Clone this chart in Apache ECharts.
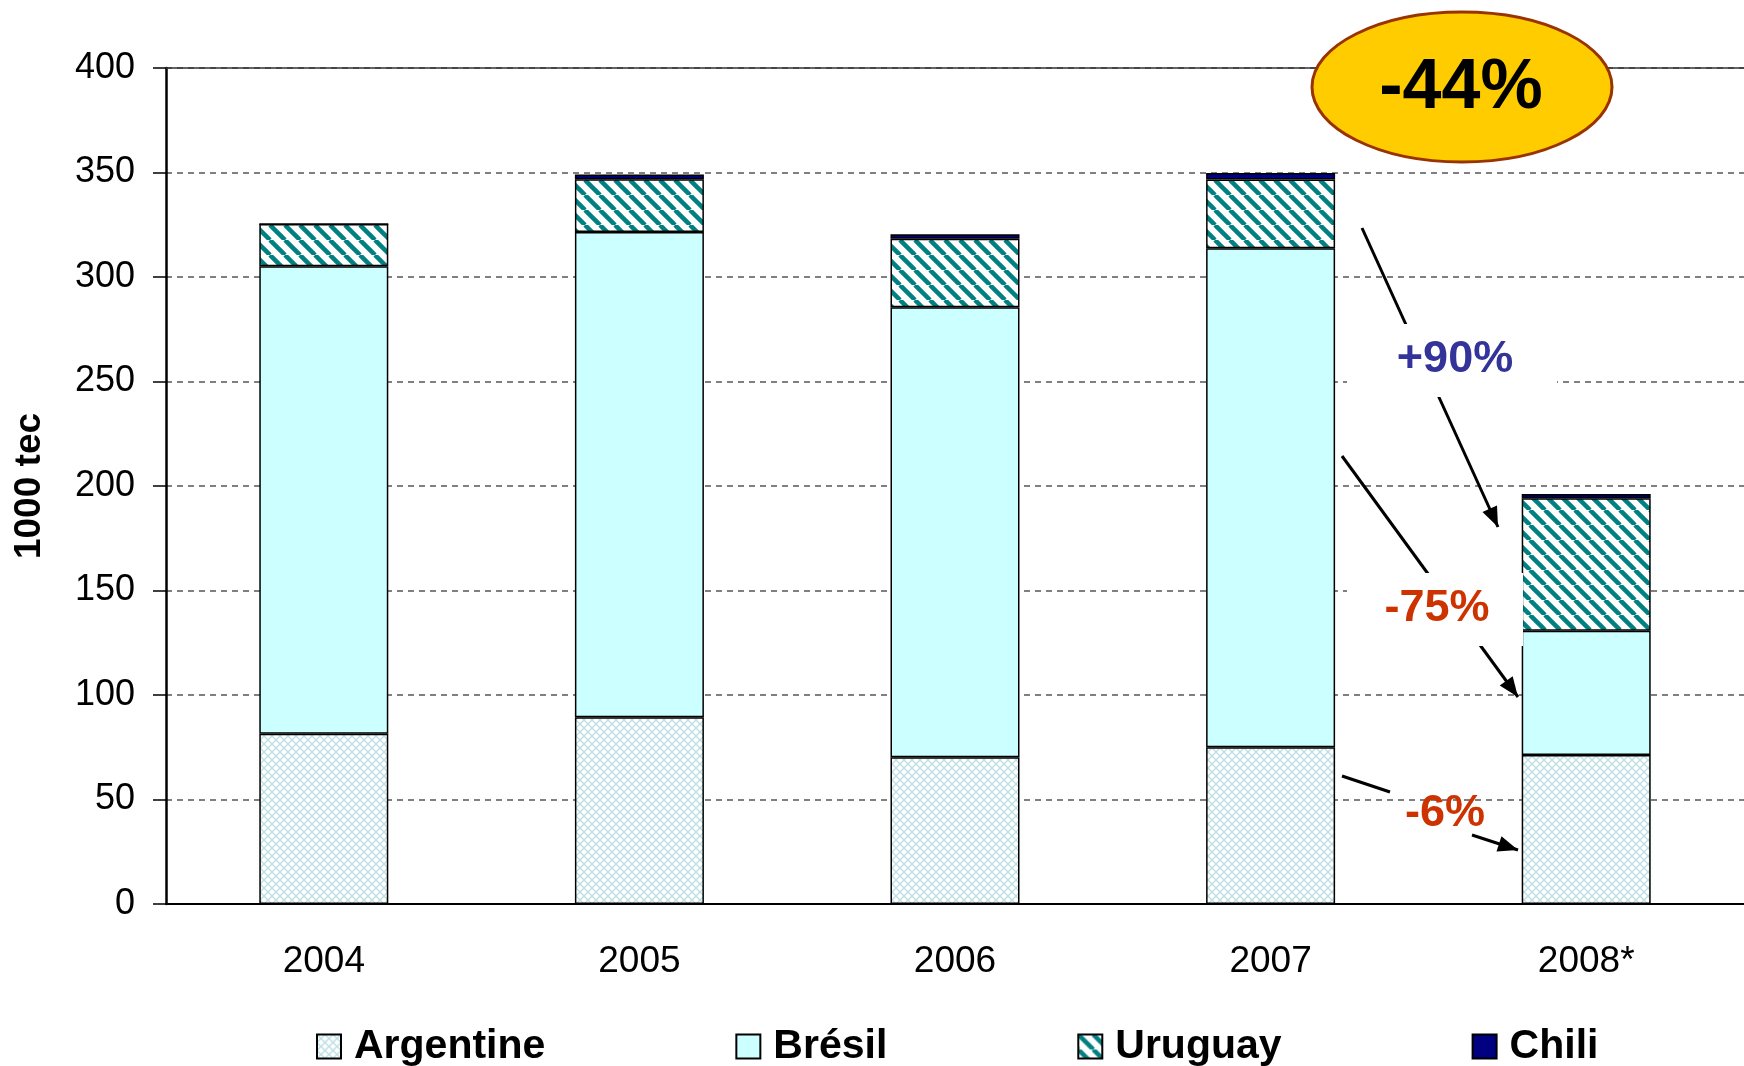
<!DOCTYPE html>
<html>
<head>
<meta charset="utf-8">
<title>1000 tec</title>
<script src="https://cdn.jsdelivr.net/npm/echarts@6/dist/echarts.min.js"></script>
<style>
  html, body { margin: 0; padding: 0; background: #fff; }
  #chart { width: 1744px; height: 1066px; }
</style>
</head>
<body>
<div id="chart"></div>
<script>
// données (1000 tec)
const categories = ['2004', '2005', '2006', '2007', '2008*'];
const argentine = [81.5, 89.4, 70.2, 75.0, 71.3];
const bresil = [223.7, 232.1, 215.3, 238.8, 59.5];
const uruguay = [20.1, 25.3, 32.8, 32.9, 63.3];
const chili = [0, 2.3, 2.2, 3.1, 2.1];
const yTicks = [0, 50, 100, 150, 200, 250, 300, 350, 400];

// motifs de remplissage
function makeStripes() {
	const c = document.createElement('canvas');
	c.width = c.height = 15;
	const ctx = c.getContext('2d');
	ctx.fillStyle = '#fff';
	ctx.fillRect(0, 0, 15, 15);
	ctx.strokeStyle = '#008080';
	ctx.lineWidth = 4.5;
	for (const x0 of [-15, 0, 15]) {
		ctx.beginPath();
		ctx.moveTo(x0, 0);
		ctx.lineTo(x0 + 15, 15);
		ctx.stroke();
	}
	return c;
}
function makeLattice() {
	const c = document.createElement('canvas');
	c.width = c.height = 8;
	const ctx = c.getContext('2d');
	ctx.fillStyle = '#fff';
	ctx.fillRect(0, 0, 8, 8);
	ctx.strokeStyle = '#bcdfe3';
	ctx.lineWidth = 1.3;
	for (const x0 of [-8, 0, 8]) {
		ctx.beginPath();
		ctx.moveTo(x0, 0);
		ctx.lineTo(x0 + 8, 8);
		ctx.stroke();
		ctx.beginPath();
		ctx.moveTo(x0 + 8, 0);
		ctx.lineTo(x0, 8);
		ctx.stroke();
	}
	return c;
}

const chart = echarts.init(document.getElementById('chart'), null, { renderer: 'canvas' });

const border = { borderColor: '#000', borderWidth: 1.5 };
const mkSeries = (name, data, color) => ({
	name,
	type: 'bar',
	stack: 'total',
	barWidth: 129,
	data,
	itemStyle: Object.assign({ color }, border),
});

// flèches d'annotation
function arrow(x1, y1, x2, y2, head) {
	const els = [{
		type: 'line', z: 20,
		shape: { x1, y1, x2, y2 },
		style: { stroke: '#000', lineWidth: 3 },
	}];
	if (head) {
		const a = Math.atan2(y2 - y1, x2 - x1);
		const L = 20, W = 8;
		const bx = x2 - L * Math.cos(a), by = y2 - L * Math.sin(a);
		els.push({
			type: 'polygon', z: 21,
			shape: { points: [
				[x2, y2],
				[bx + W * Math.sin(a), by - W * Math.cos(a)],
				[bx - W * Math.sin(a), by + W * Math.cos(a)],
			] },
			style: { fill: '#000' },
		});
	}
	return els;
}
const label = (text, x, y, color) => ({
	type: 'text', z: 30, x, y,
	style: {
		text, fill: color, font: 'bold 45px "Liberation Sans", Arial, sans-serif',
		align: 'center', verticalAlign: 'middle',
	},
});
const whiteBox = (x, y, width, height) => ({
	type: 'rect', z: 25, shape: { x, y, width, height }, style: { fill: '#fff' },
});

const graphic = [
	...arrow(1362, 228, 1498, 527, true),
	whiteBox(1347, 324, 210, 73),
	label('+90%', 1455, 360, '#333399'),
	...arrow(1342, 456, 1518, 697, true),
	whiteBox(1347, 573, 176, 73),
	label('-75%', 1437, 609, '#CC3300'),
	...arrow(1342, 776, 1390, 792, false),
	...arrow(1472, 835, 1518, 850, true),
	label('-6%', 1445, 814, '#CC3300'),
	{
		type: 'ellipse', z: 40,
		shape: { cx: 1462, cy: 87, rx: 150, ry: 75 },
		style: { fill: '#FFCC00', stroke: '#993300', lineWidth: 3 },
	},
	{
		type: 'text', z: 41, x: 1461, y: 89,
		style: {
			text: '-44%', fill: '#000', font: 'bold 70px "Liberation Sans", Arial, sans-serif',
			align: 'center', verticalAlign: 'middle',
		},
	},
];

const option = {
	animation: false,
	backgroundColor: '#fff',
	textStyle: { fontFamily: '"Liberation Sans", Arial, sans-serif' },
	grid: { left: 166, top: 68, width: 1588, height: 836 },
	legend: {
		left: 311,
		top: 1021,
		icon: 'rect',
		itemWidth: 24,
		itemHeight: 24,
		itemGap: 190,
		textStyle: { fontSize: 41, fontWeight: 'bold', color: '#000', padding: [0, 0, 0, 8] },
		data: ['Argentine', 'Brésil', 'Uruguay', 'Chili'],
	},
	xAxis: [
		{
			type: 'category',
			data: categories,
			axisLine: { lineStyle: { color: '#000', width: 2 } },
			axisTick: { length: 13, lineStyle: { color: '#000', width: 1.5 } },
			axisLabel: { color: '#000', fontSize: 37, margin: 39 },
		},
		{
			type: 'category',
			position: 'top',
			data: categories,
			axisLine: { lineStyle: { color: '#333', width: 1.5 } },
			axisTick: { show: false },
			axisLabel: { show: false },
		},
	],
	yAxis: {
		type: 'value',
		min: yTicks[0],
		max: yTicks[yTicks.length - 1],
		interval: 50,
		name: '1000 tec',
		nameLocation: 'middle',
		nameGap: 118,
		nameTextStyle: { fontSize: 37, fontWeight: 'bold', color: '#000' },
		axisLine: { show: true, lineStyle: { color: '#000', width: 2.5 } },
		axisTick: { show: true, length: 13, lineStyle: { color: '#000', width: 1.5 } },
		axisLabel: { color: '#000', fontSize: 36, margin: 31 },
		splitLine: { show: true, lineStyle: { color: '#808080', width: 2, type: [6, 5] } },
	},
	series: [
		mkSeries('Argentine', argentine, { image: makeLattice(), repeat: 'repeat' }),
		mkSeries('Brésil', bresil, '#CCFFFF'),
		mkSeries('Uruguay', uruguay, { image: makeStripes(), repeat: 'repeat' }),
		mkSeries('Chili', chili, '#000080'),
	],
	graphic,
};

chart.setOption(option);
</script>
</body>
</html>
